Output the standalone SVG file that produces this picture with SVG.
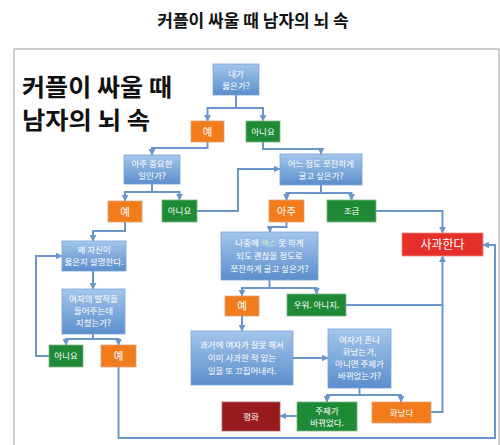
<svg xmlns="http://www.w3.org/2000/svg" width="500" height="445" viewBox="0 0 500 445">
<style>
.title{font-family:"Noto Sans CJK KR","Noto Sans",sans-serif;font-size:17px;font-weight:bold;fill:#111;}
.head{font-family:"Noto Sans CJK KR","Noto Sans",sans-serif;font-size:24px;font-weight:bold;fill:#111;}
.t{font-family:"Noto Sans CJK KR","Noto Sans",sans-serif;font-size:8.5px;fill:#fff;text-anchor:middle;}
.tl{font-family:"Noto Sans CJK KR","Noto Sans",sans-serif;font-size:10.5px;fill:#fff;text-anchor:middle;}
.blue{fill:url(#gb);stroke:#7aa3d6;stroke-width:0.8;}
.orange{fill:#f27b1c;stroke:#d9a57a;stroke-width:0.8;}
.green{fill:#1f8a35;stroke:#7fb58a;stroke-width:0.8;}
.red{fill:#e5302a;stroke:#f08a85;stroke-width:0.8;}
.dred{fill:#981b1d;stroke:#b06a6a;stroke-width:0.8;}
.c{fill:none;stroke:#6a96cc;stroke-width:2;}
.a{marker-end:url(#ar);}
</style>
<defs>
<linearGradient id="gb" x1="0" y1="0" x2="0" y2="1">
<stop offset="0" stop-color="#a3c6eb"/>
<stop offset="1" stop-color="#5c8ecc"/>
</linearGradient>
<marker id="ar" viewBox="0 0 10 10" refX="9" refY="5" markerWidth="3.5" markerHeight="3.5" orient="auto" markerUnits="strokeWidth">
<path d="M0,0 L10,5 L0,10 z" fill="#6a96cc"/>
</marker>
</defs>
<rect width="500" height="445" fill="#fff"/>
<text class="title" x="253" y="27" text-anchor="middle">커플이 싸울 때 남자의 뇌 속</text>
<rect x="14" y="49" width="485" height="410" fill="none" stroke="#b0b0b0" stroke-width="1.2"/>
<text class="head" x="22" y="96" textLength="150" lengthAdjust="spacingAndGlyphs">커플이 싸울 때</text>
<text class="head" x="22" y="129" textLength="128" lengthAdjust="spacingAndGlyphs">남자의 뇌 속</text>

<g id="connectors">
<path class="c a" d="M236,95 V108 H207.5 V121"/>
<path class="c a" d="M236,108 H263 V121"/>
<path class="c a" d="M207.5,142 V148 H152 V155"/>
<path class="c a" d="M152,184 V192 H125 V201"/>
<path class="c a" d="M152,192 H179.5 V200"/>
<path class="c a" d="M197,211 H238 V169 H280"/>
<path class="c a" d="M263,142 V149 H321 V154"/>
<path class="c a" d="M321,185 V193 H286.5 V200"/>
<path class="c a" d="M321,193 H351.5 V200"/>
<path class="c a" d="M376,211 H442.5 V233"/>
<path class="c a" d="M286.5,222 V227 H270 V232"/>
<path class="c a" d="M269.5,280 V288 H242 V296"/>
<path class="c a" d="M269.5,288 H316.5 V294"/>
<path class="c a" d="M346,305 H442.5 V256"/>
<path class="c" d="M431,412 H442.5 V305"/>
<path class="c a" d="M242,316 V331"/>
<path class="c a" d="M293,358 H328"/>
<path class="c a" d="M359.5,388 V395 H327 V402"/>
<path class="c a" d="M359.5,395 H401 V402"/>
<path class="c a" d="M297,416 H280"/>
<path class="c a" d="M125,222 V231 H93 V241"/>
<path class="c a" d="M93,271 V289"/>
<path class="c a" d="M93,334 V339 H66 V345"/>
<path class="c a" d="M93,339 H118.5 V345"/>
<path class="c a" d="M49,356 H36 V256 H62"/>
<path class="c a" d="M118.5,367 V438 H495 V245 H483"/>
</g>

<g id="n1"><rect class="blue" x="213" y="64" width="46" height="31"/><text class="t" x="236" y="77">내가</text><text class="t" x="236" y="89">옳은가?</text></g>
<g id="n2"><rect class="orange" x="191" y="121" width="33" height="21"/><text class="tl" x="207.5" y="135.5">예</text></g>
<g id="n3"><rect class="green" x="246" y="121" width="34" height="21"/><text class="t" x="263" y="134.5">아니요</text></g>
<g id="n4"><rect class="blue" x="124" y="155" width="56" height="29"/><text class="t" x="152" y="167">아주 중요한</text><text class="t" x="152" y="179">일인가?</text></g>
<g id="n5"><rect class="orange" x="108" y="201" width="34" height="21"/><text class="tl" x="125" y="215.5">예</text></g>
<g id="n6"><rect class="green" x="162" y="200" width="35" height="22"/><text class="t" x="179.5" y="214">아니요</text></g>
<g id="n7"><rect class="blue" x="280" y="154" width="82" height="31"/><text class="t" x="321" y="167">어느 정도 쪼잔하게</text><text class="t" x="321" y="179">굴고 싶은가?</text></g>
<g id="n8"><rect class="orange" x="269" y="200" width="35" height="22"/><text class="tl" x="286.5" y="215">아주</text></g>
<g id="n9"><rect class="green" x="327" y="200" width="49" height="22"/><text class="t" x="351.5" y="214">조금</text></g>
<g id="n10"><rect class="red" x="402" y="233" width="81" height="23"/><text class="tl" x="442.5" y="248.5" style="font-size:12px">사과한다</text></g>
<g id="n11"><rect class="blue" x="221" y="232" width="97" height="48"/><text class="t" x="269.5" y="246">나중에 <tspan fill="#cfe8c8">섹스</tspan> 못 하게</text><text class="t" x="269.5" y="259">되도 괜찮을 정도로</text><text class="t" x="269.5" y="272">쪼잔하게 굴고 싶은가?</text></g>
<g id="n12"><rect class="orange" x="225" y="296" width="34" height="20"/><text class="tl" x="242" y="310">예</text></g>
<g id="n13"><rect class="green" x="287" y="294" width="59" height="22"/><text class="t" x="316.5" y="308">우워. 아니지.</text></g>
<g id="n14"><rect class="blue" x="191" y="331" width="102" height="54"/><text class="t" x="242" y="348">과거에 여자가 잘못 해서</text><text class="t" x="242" y="361">이미 사과한 적 있는</text><text class="t" x="242" y="374">일을 또 끄집어내라.</text></g>
<g id="n15"><rect class="blue" x="328" y="329" width="63" height="59"/><text class="t" x="359.5" y="343">여자가 존나</text><text class="t" x="359.5" y="355">화났는가,</text><text class="t" x="359.5" y="367">아니면 주제가</text><text class="t" x="359.5" y="379">바뀌었는가?</text></g>
<g id="n16"><rect class="dred" x="222" y="402" width="58" height="29"/><text class="t" x="251" y="419.5">평화</text></g>
<g id="n17"><rect class="green" x="297" y="402" width="60" height="29"/><text class="t" x="327" y="414">주제가</text><text class="t" x="327" y="426">바뀌었다.</text></g>
<g id="n18"><rect class="orange" x="372" y="402" width="59" height="21"/><text class="t" x="401.5" y="415.5">화났다</text></g>
<g id="n19"><rect class="blue" x="62" y="241" width="64" height="30"/><text class="t" x="94" y="253">왜 자신이</text><text class="t" x="94" y="265">옳은지 설명한다.</text></g>
<g id="n20"><rect class="blue" x="62" y="289" width="63" height="45"/><text class="t" x="93.5" y="302">여자의 발작을</text><text class="t" x="93.5" y="314">들어주는데</text><text class="t" x="93.5" y="326">지쳤는가?</text></g>
<g id="n21"><rect class="green" x="49" y="345" width="34" height="22"/><text class="t" x="66" y="359">아니요</text></g>
<g id="n22"><rect class="orange" x="101" y="345" width="35" height="22"/><text class="tl" x="118.5" y="360">예</text></g>
</svg>
